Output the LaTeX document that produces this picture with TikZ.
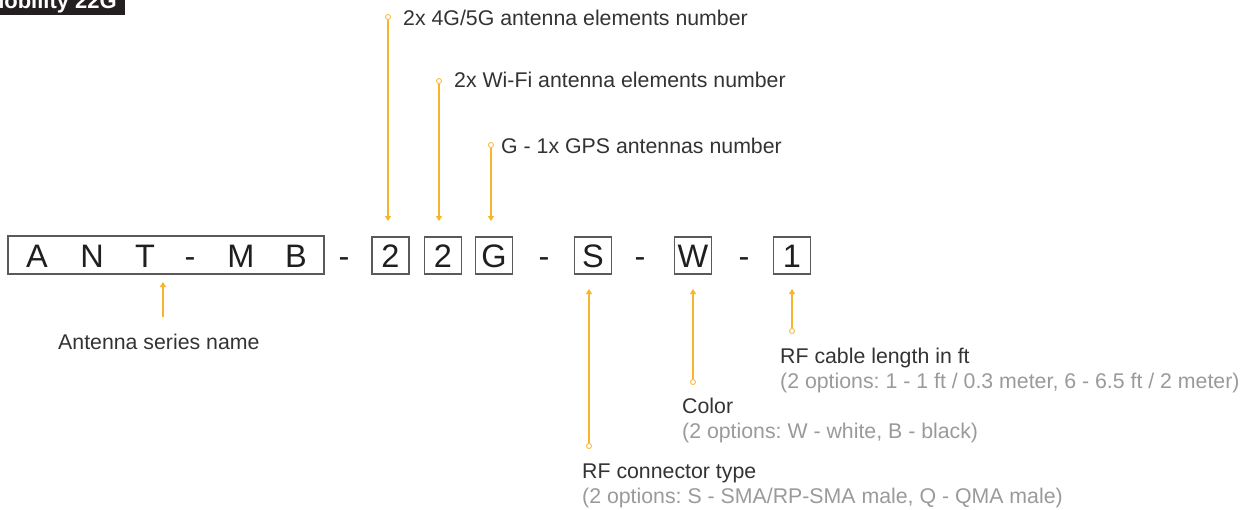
\documentclass[tikz,border=0pt]{standalone}
\usepackage{fontspec}
\setmainfont{Liberation Sans}
\usetikzlibrary{arrows.meta}
\definecolor{org}{HTML}{F7B42C}
\definecolor{txt}{HTML}{333333}
\definecolor{gry}{HTML}{9A9A9A}
\definecolor{bx}{HTML}{5A5A5A}
\definecolor{ttl}{HTML}{231F20}
\frenchspacing
\begin{document}
\begin{tikzpicture}[x=1pt,y=-1pt,
  lbl/.style={anchor=base west, inner sep=0, text=txt, font=\fontsize{21.3}{25}\selectfont},
  sub/.style={lbl, text=gry},
  big/.style={anchor=base, inner sep=0, text=black!88, font=\fontsize{32.5}{38}\selectfont},
  cell/.style={draw=bx, line width=1.2pt, minimum width=37, minimum height=37, inner sep=0},
  arr/.style={draw=org, line width=1.1pt, -{Triangle[width=6pt,length=5pt]}},
  dot/.style={circle, draw=org, line width=0.8pt, fill=white, inner sep=0, minimum size=5pt}]
\useasboundingbox (0,0) rectangle (1246,509);
% title
\fill[ttl] (0,0) rectangle (125,15);
\node[anchor=base east, inner sep=0, text=white, font=\bfseries\fontsize{22}{26}\selectfont] (title) at (117,8) {Mobility 22G};
% code boxes
\node[cell, minimum width=316, minimum height=38] (series) at (166,255) {};
\node[big] (lA) at (37,267) {A};
\node[big] (lN) at (92,267) {N};
\node[big] (lT) at (145,267) {T};
\node[big] (lD) at (190,267) {-};
\node[big] (lM) at (241,267) {M};
\node[big] (lB) at (296,267) {B};
\node[big] (s1) at (344,267) {-};
\node[cell] (c1) at (390.5,255.5) {};
\node[big] at (390.5,267) (v1) {2};
\node[cell] (c2) at (443,255.5) {};
\node[big] at (443,267) (v2) {2};
\node[cell] (c3) at (494,255.5) {};
\node[big] at (494,267) (v3) {G};
\node[big] (s2) at (544,267) {-};
\node[cell] (c4) at (593,255.5) {};
\node[big] at (593,267) (v4) {S};
\node[big] (s3) at (640,267) {-};
\node[cell] (c5) at (693,255.5) {};
\node[big] at (693,267) (v5) {W};
\node[big] (s4) at (744,267) {-};
\node[cell] (c6) at (792,255.5) {};
\node[big] at (792,267) (v6) {1};
% top labels
\node[dot] (d1) at (388,17) {};
\coordinate (t1) at (388,221);
\draw[arr] (d1) -- (t1);
\node[lbl] (L1) at (403,25) {2x 4G/5G antenna elements number};
\node[dot] (d2) at (439,81) {};
\coordinate (t2) at (439,221);
\draw[arr] (d2) -- (t2);
\node[lbl] (L2) at (454,87) {2x Wi-Fi antenna elements number};
\node[dot] (d3) at (491,145) {};
\coordinate (t3) at (491,221);
\draw[arr] (d3) -- (t3);
\node[lbl] (L3) at (501,153) {G - 1x GPS antennas number};
% bottom labels
\coordinate (b0) at (163,317);
\coordinate (u0) at (163,282);
\draw[arr] (b0) -- (u0);
\node[lbl] (L0) at (58,349) {Antenna series name};
\node[dot] (d4) at (589,446) {};
\coordinate (u4) at (589,289);
\draw[arr] (d4) -- (u4);
\node[lbl] (L4) at (582,478) {RF connector type};
\node[sub] (G4) at (582,503) {(2 options: S - SMA/RP-SMA male, Q - QMA male)};
\node[dot] (d5) at (693,382) {};
\coordinate (u5) at (693,289);
\draw[arr] (d5) -- (u5);
\node[lbl] (L5) at (682,413) {Color};
\node[sub] (G5) at (682,438) {(2 options: W - white, B - black)};
\node[dot] (d6) at (792,331) {};
\coordinate (u6) at (792,289);
\draw[arr] (d6) -- (u6);
\node[lbl] (L6) at (780,363) {RF cable length in ft};
\node[sub] (G6) at (780,388) {(2 options: 1 - 1 ft / 0.3 meter, 6 - 6.5 ft / 2 meter)};
\end{tikzpicture}
\end{document}
